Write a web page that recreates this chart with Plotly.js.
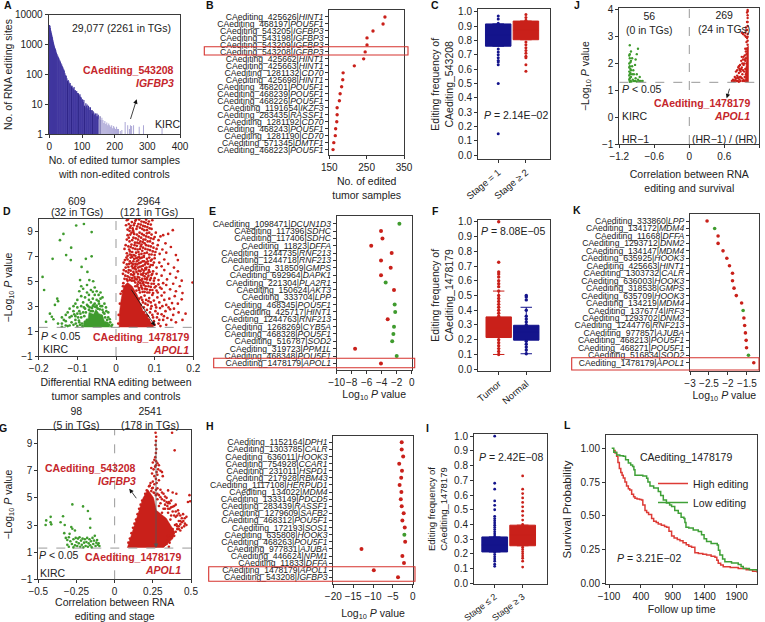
<!DOCTYPE html>
<html><head><meta charset="utf-8">
<script src="https://cdn.plot.ly/plotly-3.0.1.min.js"></script>
<style>html,body{margin:0;padding:0;background:#fff}</style></head>
<body><div id="chart" style="width:765px;height:622px"></div>
<script>
// ---------- DATA ----------
const aX=[1,2,3,4,5,6,7,8,9,10,11,12,13,14,15,16,17,18,19,20,22,24,26,28,30,32,34,36,38,40,42,44,46,48,50,52,54,56,58,60,62,64,66,68,70,72,74,76,78,80,82,84,86,88,90,92,94,96,98,100,102,104,106,108,110,112,114,116,118,120,122,124,126,128,130,132,134,136,138,140,142,144,146,148,150];
const aY=[4500,4200,3600,3100,2800,2500,2200,2000,1800,1600,1400,1250,1120,1000,920,830,770,720,680,640,540,480,420,380,340,300,270,240,215,190,170,150,135,110,95,90,75,62,65,58,50,52,44,40,42,36,34,38,30,30,26,28,24,24,22,20,22,18,17,14,15,12,14,9,8,11,9,10,7.5,9,8,6.5,8,6,6.5,5,6,5.5,4.5,5,5,4,5,4,4.5];
const aSparseX=[152,155,158,161,164,167,170,173,176,179,182,185,188,191,194,197,200,203,206,209,212,217,222,232,240,245,248,252,258,275,288,345];
const aSparseY=[3.2,4,3,3.6,3,2.4,2.8,2.2,2.5,2,2.3,2,1.8,2,1.6,1.9,1.7,1.5,1.8,1.5,1.5,1.3,1.4,2.6,2,1.5,2,1.9,2,1.8,2,1.8];
const aDarkX=[55,68,88,108,131,155];
const aDarkY=[60,40,24,9,6.5,4];

const bSites=['425626','468197','543205','543198','543209','543208','425662','425663','1281132','425698','468201','468239','468226','1191654','283435','1281192','468243','1281190','571345','468223'];
const bGenes=['HINT1','POU5F1','IGFBP3','IGFBP3','IGFBP3','IGFBP3','HINT1','HINT1','CD70','HINT1','POU5F1','POU5F1','POU5F1','IKZF3','RASSF1','CD70','POU5F1','CD70','DMTF1','POU5F1'];
const bValues=[299,294,267,251,251,246,242,217,187,186,183,179,177,171,171,170,167,166,162,160];

const eSites=['1098471','117396','117406','11823','1244735','1244718','318509','692964','221304','150624','333704','468345','425717','1244763','1268269','468328','516787','319723','468348','1478179'];
const eGenes=['DCUN1D3','SDHC','SDHC','DFFA','RNF213','RNF213','GMPS','DAPK1','PLA2R1','AKT3','LPP','POU5F1','HINT1','RNF213','CYB5A','POU5F1','SOD2','PPM1L','POU5F1','APOL1'];
const eRed=[null,-4.09,-3.9,-5.4,-2.67,-4.09,-2.8,-4.09,null,-2.36,null,null,null,-3.2,null,null,null,-7.55,null,-4.1];
const eGreen=[-1.64,null,null,null,null,null,null,null,-3.47,null,null,-2.27,-2.2,null,-2.36,-2.44,-2.6,null,-2,null];

const hSites=['1152164','1303785','636011','754928','231011','217928','1117108','134022','1333149','283439','1279609','468312','172193','635808','468263','977831','446624','11833','1478179','543208'];
const hGenes=['DPH1','CALR','HOOK3','CCAR1','HSPD1','RBM43','HERPUD1','MDM4','PDCD5','RASSF1','SAFB2','POU5F1','SOS1','HOOK3','POU5F1','AJUBA','NPM1','DFFA','APOL1','IGFBP3'];
const hRed=[-2.77,-2.77,-2.4,-3.4,-2.7,-2.9,-3.3,-2.85,-3,-2.77,-2.27,-2.6,-2,null,-1.9,-12.9,-2.6,-2.2,-9.8,-3.7];
const hGreen=[null,null,null,null,null,null,null,null,null,null,null,null,null,-2.1,null,null,null,null,null,null];

const kSites=['333860','134172','11668','1293712','134147','635925','425663','1303732','636003','318538','635709','134219','1376774','1293702','1244776','977857','468213','468271','516834','1478179'];
const kGenes=['LPP','MDM4','DFFA','DNM2','MDM4','HOOK3','HINT1','CALR','HOOK3','GMPS','HOOK3','MDM4','IRF3','DNM2','RNF213','AJUBA','POU5F1','POU5F1','SOD2','APOL1'];
const kRed=[-2.55,null,-2.26,-2.26,-2.13,-2.03,-1.96,-1.88,-1.88,-1.84,-1.78,-1.64,null,-1.58,-1.56,-1.54,-1.52,-1.51,null,-1.32];
const kGreen=[null,-2.35,null,null,null,null,null,null,null,null,null,null,-1.6,null,null,null,null,null,-1.46,null];

const cLow=[.97,.95,.92,.9,.74,.72,.7,.68,.66,.65,.63,.5,.15];
const cHigh=[.98,.96,.94,.79,.77,.75,.73,.71,.69,.68,.63,.585];
const fTumor=[.1,.12,.14,.16,.18,.2,.36,.38,.4,.42,.44,.46,.48,.5,.53,.56,.58,.6,.625,.645,.66,.725,1];
const fNormal=[.105,.13,.15,.17,.19,.3,.32,.34,.36,.4,.47,.49,.5];
const iLow=[.115,.13,.15,.165,.18,.195,.21,.32,.335,.35,.365,.38,.395,.41,.425,.44,.455,.5,.53,.56,.64,.68,1];
const iHigh=[.11,.15,.17,.185,.2,.215,.23,.245,.4,.43,.46,.49,.52,.55,.58,.61,.64,.73];

const dGreen=[[-.103,9.48],[-.083,9.6],[-.136,8.8],[-.145,8.3],[-.19,5.35],[-.186,4.3],[-.164,6.8],[-.116,7.7],[-.129,7.1],[-.117,6.7],[-.063,8.95],[-.078,6.8],[-.089,6.15],[-.074,5.75],[-.063,7],[-.093,5.1],[-.069,5.1],[-.059,5],[-.152,3.6],[-.158,3.1],[-.171,2.4],[-.181,1.75],[-.166,2.15],[-.162,1.95],[-.15,3.4],[-.09,4.6],[-.095,4.2],[-.085,4.4],[-.075,4.7],[-.065,4.3],[-.055,4.5],[-.05,4.2],[-.045,3.9],[-.04,4.1],[-.07,3.9],[-.08,3.7],[-.1,3.5],[-.105,3.2],[-.11,3],[-.12,2.8],[-.125,2.5],[-.13,2.3],[-.12,2.1],[-.135,1.9],[-.14,1.6],[-.115,1.7],[-.105,2.2],[-.1,1.4],[-.095,1.7],[-.09,2.1],[-.085,2.5],[-.08,2.8],[-.075,3.1],[-.07,2.7],[-.065,3.3],[-.06,3],[-.055,3.2],[-.05,2.9],[-.045,3.4],[-.04,3],[-.035,2.7],[-.03,2.4],[-.025,2.6],[-.02,2.1],[-.015,1.7],[-.012,1.4],[-.09,3],[-.095,2.6],[-.1,2.4],[-.105,1.9],[-.11,1.5],[-.12,1.45],[-.13,1.8],[-.125,1.4],[-.14,2.1],[-.06,3.6],[-.05,3.5],[-.07,3.5],[-.085,3.3],[-.04,3.6],[-.03,3.2],[-.035,3.7],[-.055,3.9],[-.075,4.1],[-.09,3.8],[-.06,4.15],[-.1,2.9],[-.11,2.6],
[-.088,1.6],[-.082,2.2],[-.078,2.5],[-.075,1.9],[-.068,2.9],[-.065,2.6],[-.06,2.6],[-.058,3.1],[-.05,3.05],[-.047,2.8],[-.042,2.75],[-.038,2.2],[-.033,2.5],[-.028,2.1],[-.023,1.9],[-.018,1.5],[-.093,1.5],[-.087,1.4],[-.098,2.1],[-.092,2.4],[-.083,2.9],[-.072,3],[-.062,2.85],[-.054,2.95],[-.044,3.2],[-.036,3],[-.026,2.9],[-.02,2.5],[-.016,1.95],[-.01,1.5],[-.104,1.6],[-.096,1.85],[-.108,2.35],[-.115,2.2],[-.13,1.45],[-.14,1.35],[-.15,1.6]];
const dGreenMassX=[-.085,-.083,-.072,-.07,-.058,-.052,-.044,-.035,-.03,-.02,-.016];
const dGreenMassY=[1.3,1.8,2,2.5,2.35,2.75,2.4,2.3,1.8,1.7,1.3];
const dRed=[[.028,9.9],[.033,9.6],[.036,9.3],[.041,9.75],[.046,9.5],[.05,9.85],[.053,9.2],[.058,9.6],[.062,9.3],[.066,9.8],[.07,9.45],[.073,9.1],[.077,9.7],[.081,9.35],[.085,9.8],[.09,9.55],[.094,9.9],[.078,9.95],[.044,9.1],[.03,9.15],
[.03,8.7],[.035,8.2],[.04,8.9],[.045,8.5],[.049,8.1],[.054,8.75],[.057,8.35],[.061,8.9],[.065,8.5],[.069,8.15],[.072,8.7],[.076,8.35],[.08,8.85],[.084,8.55],[.088,8.2],[.092,8.75],[.097,8.4],[.103,8.9],[.11,8.3],[.122,8.7],[.135,8.8],[.147,9.1],[.128,8.05],[.115,8.6],
[.022,7.6],[.028,7.25],[.032,7.8],[.036,7.4],[.04,7.1],[.044,7.65],[.048,7.9],[.052,7.3],[.056,7.55],[.06,7.15],[.064,7.8],[.068,7.45],[.072,7.05],[.076,7.6],[.08,7.3],[.084,7.85],[.088,7.5],[.092,7.15],[.097,7.7],[.102,7.35],[.108,7.9],[.113,7.2],[.12,7.55],[.13,7.3],[.142,7.75],[.155,7.1],[.036,7.15],[.05,7.05],[.066,7.2],
[.02,6.5],[.025,6.1],[.03,6.75],[.034,6.4],[.038,6.9],[.041,6.2],[.045,6.6],[.048,6.05],[.052,6.85],[.055,6.35],[.058,6.7],[.061,6.15],[.064,6.5],[.067,6.9],[.07,6.25],[.073,6.6],[.076,6.05],[.08,6.8],[.083,6.4],[.087,6.15],[.09,6.65],[.095,6.3],[.1,6.85],[.105,6.1],[.112,6.5],[.118,6.2],[.125,6.75],[.135,6.4],[.15,6.1],[.16,6.7],[.042,6.95],[.06,6.95],[.028,6.35],[.05,6.4],[.078,6.5],
[.018,5.6],[.022,5.2],[.026,5.8],[.03,5.4],[.033,5.9],[.036,5.1],[.039,5.55],[.042,5.25],[.045,5.75],[.048,5.35],[.051,5.95],[.054,5.15],[.057,5.6],[.06,5.3],[.063,5.8],[.066,5.05],[.069,5.5],[.072,5.85],[.075,5.2],[.078,5.6],[.081,5.3],[.085,5.9],[.088,5.1],[.092,5.5],[.096,5.8],[.1,5.25],[.105,5.6],[.11,5.1],[.118,5.45],[.125,5.9],[.132,5.15],[.14,5.6],[.155,5.3],[.17,5.05],[.198,4.9],[.16,5.8],[.03,5.05],[.047,5.05],[.067,5.95],[.083,5.7],
[.05,4.9],[.055,4.6],[.06,4.3],[.063,4.85],[.066,4.5],[.069,4.15],[.072,4.7],[.075,4.4],[.078,4.9],[.081,4.1],[.084,4.6],[.088,4.3],[.092,4.8],[.096,4.05],[.1,4.5],[.105,4.25],[.11,4.75],[.118,4.4],[.125,4.1],[.13,4.7],[.14,4.35],[.148,4.8],[.155,4.2],[.165,4.6],[.172,4.05],[.018,4.6],[.02,4.1],[.058,4.95],[.07,4.85],
[.065,3.7],[.07,3.3],[.074,3.85],[.078,3.5],[.082,3.1],[.086,3.65],[.09,3.3],[.094,3.9],[.098,3.45],[.102,3.1],[.107,3.7],[.112,3.3],[.118,3.85],[.125,3.5],[.13,3.1],[.138,3.6],[.145,3.25],[.152,3.8],[.16,3.2],[.17,3.55],
[.09,2.8],[.094,2.3],[.098,1.8],[.102,2.6],[.106,2.1],[.11,1.6],[.114,2.85],[.118,2.35],[.122,1.9],[.128,2.6],[.133,2.05],[.14,2.75],[.148,2.3],[.155,1.7],[.162,2.5],[.172,1.9],[.18,2.4],[.1,1.5],[.115,1.4],[.13,1.5],[.085,1.9],[.09,1.6],[.095,1.45]];
const dRedMore=[[.026,9.5],[.031,9.95],[.038,9.45],[.043,9.25],[.048,9.65],[.055,9.4],[.06,9.95],[.064,9.55],[.068,9.2],[.072,9.75],[.075,9.4],[.08,9.1],[.083,9.6],[.087,9.25],[.092,9.2],[.035,9.05],[.052,9.95],
[.033,8.5],[.037,8.75],[.042,8.3],[.047,8.8],[.051,8.45],[.055,8.1],[.059,8.6],[.063,8.2],[.067,8.8],[.071,8.35],[.074,8.05],[.078,8.6],[.082,8.2],[.086,8.9],[.09,8.45],[.095,8.05],[.1,8.55],[.028,8.35],[.045,8.95],[.06,8.05],
[.025,7.9],[.03,7.05],[.034,7.55],[.038,7.75],[.042,7.35],[.046,7.1],[.05,7.6],[.054,7.85],[.058,7.35],[.062,7.6],[.066,7.95],[.07,7.7],[.074,7.25],[.078,7.9],[.082,7.55],[.086,7.15],[.09,7.8],[.095,7.4],[.1,7.1],[.105,7.6],[.04,7.95],
[.023,6.7],[.027,6.9],[.032,6.15],[.036,6.6],[.04,6.45],[.044,6.05],[.047,6.8],[.05,6.2],[.054,6.6],[.057,6.1],[.06,6.45],[.063,6.85],[.066,6.2],[.069,6.6],[.072,6.95],[.075,6.35],[.079,6.1],[.082,6.6],[.086,6.9],[.09,6.3],[.093,6.75],[.098,6.5],[.044,6.35],[.056,6.9],
[.02,5.9],[.024,5.45],[.028,5.15],[.032,5.7],[.035,5.3],[.038,5.85],[.041,5.05],[.044,5.5],[.047,5.6],[.05,5.2],[.053,5.75],[.056,5.35],[.059,5.85],[.062,5.1],[.065,5.55],[.068,5.2],[.071,5.65],[.074,5.4],[.077,5.95],[.08,5.15],[.084,5.45],[.087,5.75],[.09,5.25],[.094,5.6],[.098,5.05],
[.016,4.2],[.019,4.85],[.05,4.6],[.053,4.25],[.056,4.75],[.059,4.45],[.062,4.1],[.065,4.65],[.068,4.4],[.071,4.95],[.074,4.15],[.077,4.6],[.08,4.35],[.083,4.85],[.086,4.1],[.09,4.55],[.094,4.3],[.098,4.8],[.103,4.6],[.108,4.1],[.114,4.5],[.122,4.85],
[.06,3.6],[.064,3.1],[.068,3.5],[.072,2.9],[.076,3.2],[.08,2.7],[.084,3.4],[.088,2.5],[.092,3],[.096,2.1],[.104,2.9],[.108,2.4],[.112,1.9],[.12,3],[.072,2.5],[.078,2.3],[.082,2.2],[.086,1.7],[.124,2.2],[.136,2.9],[.143,1.9],[.15,2.8],[.01,3.2],[.012,4],[.007,2.3],[.006,1.6]];
const dRedMassX=[.008,.009,.013,.02,.03,.042,.055,.062,.07,.085,.097];
const dRedMassY=[1.3,2.5,3.5,4.6,4.9,4.6,3.9,3.3,2.6,2,1.3];

const gGreen=[[-.277,4.52],[-.207,4.37],[-.175,4.03],[-.448,3.34],[-.419,3.6],[-.42,3.2],[-.452,3],[-.415,3.05],[-.338,3.64],[-.354,3.2],[-.327,3],[-.16,3.46],[-.16,2.8],[-.284,2.85],[-.277,2.72],[-.26,2.6],[-.33,2.4],[-.32,2.05],[-.31,1.9],[-.3,2.1],[-.29,1.8],[-.28,1.6],[-.27,1.95],[-.26,1.5],[-.255,2.05],[-.25,1.75],[-.245,1.45],[-.24,2],[-.235,1.65],[-.23,2.1],[-.225,1.4],[-.22,1.85],[-.215,1.55],[-.21,2],[-.205,1.35],[-.2,1.7],[-.195,1.95],[-.19,1.45],[-.185,1.75],[-.18,2.05],[-.175,1.4],[-.17,1.65],[-.165,1.95],[-.16,1.5],[-.155,1.8],[-.15,1.35],[-.145,2.05],[-.14,1.6],[-.135,1.85],[-.13,2.2],[-.125,1.45],[-.12,1.7],[-.115,1.9],[-.11,1.55],[-.105,1.65],[-.1,1.45],[-.295,2.35],[-.27,1.35],[-.31,1.55],[-.3,1.4]];
const gRed=[[.268,9.8],[.272,9.5],[.27,9.2],[.268,8.9],[.273,8.6],[.27,8.3],[.266,8],[.272,7.7],[.27,7.4],[.24,7.2],[.25,7.6],[.26,7.8],[.255,7.1],[.265,7.3],[.28,7.55],[.285,7.1],[.275,6.9],[.29,7.4],[.3,7],[.245,6.8],[.26,6.6],[.27,6.4],[.28,6.7],[.31,6.9],[.315,6.6],[.25,6.2],[.26,6],[.275,6.1],[.29,6.3],[.235,6.1],[.23,5.9],[.245,5.7],[.255,5.4],[.28,5.7],[.3,5.6],[.32,5.3],[.35,5.55],[.38,5.4],[.404,5.3],[.49,5.2],[.48,4.7],[.495,4.75],[.376,9.8],[.393,8.5],[.415,4.08],[.448,3.8],[.459,3.5],[.47,3.6],[.43,3.7],[.44,3.2],[.42,3.3],[.455,2.9],[.4,4.5],[.37,4.8],[.34,5],[.31,4.9],[.36,4.2],[.38,4.35],[.39,3.7],[.33,4.5],[.35,3.9],[.3,4.6],[.29,4.4],[.42,2.9],[.43,2.6],[.44,2.8],[.405,3.05],[.37,3.7],[.395,3],[.3,5.05],[.27,5.2],[.28,4.9],[.26,5.35],[.32,4.2],[.31,3.9],[.345,4.4],[.365,3.4],[.4,3.6],[.355,4.7],[.325,4.8],[.41,2.7],[.385,2.4],[.35,1.9],[.33,1.55],[.355,1.4],
[.09,1.7],[.1,2],[.11,2.4],[.12,2.8],[.13,3.1],[.14,3.4],[.15,3.8],[.16,4.2],[.17,4.5],[.18,4.8],[.2,5.3],[.21,5.55],[.225,5.85],[.24,5.5],[.25,5.75],[.27,5.6],[.28,5.3],[.29,5.2],[.31,5.4],[.33,5.1],[.34,4.7],[.35,4.6],[.36,4.6],[.37,4.3],[.38,4],[.39,4.4],[.4,4],[.41,3.7],[.42,3.85],[.43,3.3],[.44,3.5],[.45,3.3],[.46,3.1],[.47,3],[.43,3.05],[.41,2.9],[.42,2.7],[.4,2.5],[.39,2.2],[.37,2.1],[.36,1.7],[.34,1.6],[.32,1.45],[.35,2.2],[.38,2.7],[.33,4.2],[.35,4.2]];
const gRedMassX=[.083,.186,.218,.255,.273,.338,.393,.382,.317];
const gRedMassY=[1.32,5,5.6,5,4.08,3.5,2.5,2,1.32];

const jGreen=[[-1.02,2.68],[-1,2.45],[-1.03,2.3],[-1.02,2.2],[-1,2.1],[-1.03,2],[-1.02,1.9],[-1.01,1.8],[-1.03,1.7],[-1.02,1.6],[-1,1.5],[-1.03,1.4],[-1.01,1.35],[-1.02,2.35],[-1.01,1.65],[-1.03,1.55],[-1.02,1.45],[-1,1.75],[-1.03,1.85],[-1.01,2.05],[-.88,2.55],[-.9,2.35],[-.92,2.15],[-.93,1.95],[-.96,1.75],[-.95,1.6],[-.92,1.45],[-.9,1.6],[-.88,1.4],[-.85,1.5],[-.83,1.35],[-.8,1.35],[-.86,1.35],[-.9,1.33],[-.95,1.35],[-.98,1.6],[-.98,1.9],[-.98,2.2],[-.97,1.4],[-.93,1.35],[-.99,1.33],[-1.02,1.32]];
const jRed=[[1,4],[.99,3.9],[1,3.8],[1,3.7],[.99,3.55],[1,3.4],[.98,3.25],[.95,3.05],[.92,3.1],[.9,3.15],[.97,3],[.99,2.95],[1,3.1],[.98,2.8],[1,2.7],[.73,1.35],[.75,1.4],[.78,1.5],[.8,1.7],[.82,1.55],[.84,1.85],[.86,1.4],[.78,1.35],[.81,1.35],[.84,1.45],[.85,1.65],[.87,1.95],[.88,1.7],[.89,2.1],[.9,1.85],[.91,1.6],[.92,2.15],[.93,2.25],[.94,2],[.95,2.3],[.96,2.1],[.87,1.5],[.83,1.35],[.9,2.25],[.97,2.45],[.98,2.35],[.86,1.8],[.88,1.35],[.85,1.32],[.79,1.4],[.82,1.75],
[.95,1.5],[.96,1.8],[.97,1.6],[.98,2],[.99,2.55],[.96,2.55],[.93,1.4],[.94,1.7],[.92,1.75],[.9,1.45],[.89,1.8],[.87,1.75],[.85,1.9],[.83,1.5],[.8,1.45],[.76,1.35],[.93,1.95],[.95,2.15],[.97,2.2],[.91,2],[.88,1.5],[.92,1.35],[.95,1.35],[.98,1.4],[1,2.85],[1,3],[.99,3.25],[1,3.55],[1,3.95],[.97,3.35],[.96,3.15]];
const jRedMassX=[.96,.965,.98,.985,1.015,1.015];
const jRedMassY=[1.3,1.8,2,2.6,2.65,1.3];

const lHighX=[-32,-5,20,40,62,85,105,124,150,175,203,225,255,285,307,340,380,411,430,464,490,520,568,600,640,672,720,770,803,840,881,920,970,1012,1060,1110,1150,1194,1246,1300,1370,1429,1500,1560,1590,1612,1650,1690,1800,1925,2050,2150,2223];
const lHighY=[.983,.965,.94,.895,.85,.82,.8,.78,.75,.72,.70,.69,.66,.64,.63,.625,.62,.617,.58,.54,.525,.51,.48,.46,.45,.44,.43,.42,.415,.385,.35,.335,.325,.316,.3,.285,.275,.267,.227,.22,.215,.21,.2,.193,.17,.148,.135,.123,.118,.109,.1,.09,.079];
const lLowX=[-58,-25,20,70,124,160,203,240,270,290,307,370,430,490,510,542,600,672,710,751,800,850,881,930,985,1030,1074,1090,1106,1150,1220,1299,1350,1390,1429,1500,1596,1615,1638,1680,1716,1820,1925,1970,2004,2100,2223];
const lLowY=[1,.97,.95,.945,.94,.915,.89,.875,.864,.84,.8,.8,.795,.778,.75,.72,.705,.68,.65,.617,.595,.58,.568,.54,.518,.49,.48,.45,.415,.41,.395,.383,.36,.33,.309,.295,.284,.245,.21,.18,.16,.15,.14,.125,.11,.1,.086];

// ---------- LAYOUT HELPERS ----------
const W=765,H=622,FONT='Liberation Sans',RED='#c9201a',GREEN='#3f9b2e',BLUE='#14148c',TRED='#c5262b',INK='#222';
const fx=p=>p/W, fy=p=>1-p/H;
const layout={width:W,height:H,margin:{l:0,r:0,t:0,b:0,pad:0},paper_bgcolor:'#fff',plot_bgcolor:'#fff',showlegend:true,
 font:{family:FONT,size:10,color:INK},annotations:[],shapes:[],
 legend:{x:fx(653),y:fy(469),xanchor:'left',yanchor:'top',bgcolor:'rgba(0,0,0,0)',font:{size:10.5,family:FONT,color:INK},itemwidth:30,tracegroupgap:0}};
const data=[];
let axisIndex=0;
function panel(box,xa,ya){
  axisIndex++;
  const n=axisIndex===1?'':axisIndex, base={showline:true,mirror:true,linecolor:'#3a3a3a',linewidth:1,ticks:'outside',ticklen:3,tickwidth:1,tickcolor:'#333',showgrid:false,zeroline:false,tickfont:{size:10,family:FONT,color:INK},automargin:false,tickangle:0};
  layout['xaxis'+n]=Object.assign({},base,{domain:[fx(box[0]),fx(box[1])],anchor:'y'+n},xa);
  layout['yaxis'+n]=Object.assign({},base,{domain:[fy(box[3]),fy(box[2])],anchor:'x'+n},ya);
  return {x:'x'+n,y:'y'+n};
}
const ttl=(text,standoff,size)=>({text,standoff,font:{size:size||10.5,family:FONT,color:INK}});
function note(text,x,y,o){layout.annotations.push(Object.assign({text,xref:'paper',yref:'paper',x:fx(x),y:fy(y),showarrow:false,xanchor:'center',yanchor:'middle',font:{size:10.5,family:FONT,color:INK},borderpad:0,borderwidth:0},o||{}));}
const redNote=(t,x,y)=>note('<b>'+t+'</b>',x,y,{xanchor:'right',font:{size:10.5,family:FONT,color:TRED}});
function arrow(x0,y0,x1,y1,color){layout.annotations.push({xref:'paper',yref:'paper',x:fx(x1),y:fy(y1),ax:x0-x1,ay:y0-y1,axref:'pixel',ayref:'pixel',showarrow:true,arrowhead:2,arrowsize:1.1,arrowwidth:.8,arrowcolor:color||'#111'});}
const letter=(t,x,y)=>note('<b>'+t+'</b>',x,y,{font:{size:10.5,family:FONT,color:'#111'}});
function dots(ax,x,y,color,size){data.push({type:'scatter',mode:'markers',xaxis:ax.x,yaxis:ax.y,x,y,showlegend:false,marker:{color,size,line:{width:0}},cliponaxis:false});}
function mass(ax,x,y,color){data.push({type:'scatter',mode:'lines',xaxis:ax.x,yaxis:ax.y,x,y,fill:'toself',fillcolor:color,line:{color,width:.5},showlegend:false,hoverinfo:'skip'});}
function dash(ax,x0,x1,y0,y1){layout.shapes.push({type:'line',xref:ax.x,yref:ax.y,x0,x1,y0,y1,layer:'above',line:{color:'#999',width:1,dash:'dash'}});}
function frameRect(x0,x1,y0,y1){layout.shapes.push({type:'rect',xref:'paper',yref:'paper',x0:fx(x0),x1:fx(x1),y0:fy(y1),y1:fy(y0),layer:'above',line:{color:'#d6332e',width:1.1}});}
const rowLabels=(s,g)=>s.map((v,i)=>'CAediting_'+v+'|<i>'+g[i]+'</i>');
const rows=s=>s.map((_,i)=>i);
function box(ax,pos,q1,med,q3,lo,hi,color){data.push({type:'box',xaxis:ax.x,yaxis:ax.y,x:[pos],q1:[q1],median:[med],q3:[q3],lowerfence:[lo],upperfence:[hi],width:.92,whiskerwidth:.45,boxpoints:false,fillcolor:color,line:{color,width:1},showlegend:false});}
const col=(v,p)=>v.map(()=>p);
const xs=a=>a.map(p=>p[0]), ys=a=>a.map(p=>p[1]);
const labelFont={size:8.6,family:FONT,color:INK};
const stageFont={size:9.5,family:FONT,color:INK};

// A
const A=panel([48.7,180,14.7,134.3],{range:[-2,400],tickvals:[0,100,200,300,400],title:ttl('No. of edited tumor samples<br>with non-edited controls',5)},
 {type:'log',range:[0,4],tickvals:[1,10,100,1000,10000],ticktext:['1','10','100','1000','10000'],title:ttl('No. of RNA editing sites',0)});
data.push({type:'bar',xaxis:A.x,yaxis:A.y,x:aX,y:aY,width:3.6,marker:{color:'#41379f',line:{width:0}},showlegend:false});
data.push({type:'bar',xaxis:A.x,yaxis:A.y,x:aSparseX,y:aSparseY,width:2.6,marker:{color:'#9d97cf',line:{width:0}},showlegend:false});
data.push({type:'bar',xaxis:A.x,yaxis:A.y,x:aDarkX,y:aDarkY,width:1.4,marker:{color:'#1d1570',line:{width:0}},showlegend:false});
note('29,077 (2261 in TGs)',122,28);
redNote('CAediting_543208',173.5,70); redNote('<i>IGFBP3</i>',173.5,83);
note('KIRC',168,124); arrow(128.3,126,136.7,99.3); letter('A',8,5);

// B
const B=panel([329.3,404,10,155],{range:[150,350],tickvals:[150,250,350],title:ttl('No. of edited<br>tumor samples',5)},
 {range:[19.77,-1],tickvals:rows(bSites),ticktext:rowLabels(bSites,bGenes),tickfont:labelFont});
dots(B,bValues,rows(bSites),RED,3.4); frameRect(204.3,408,46.7,55); letter('B',210,5);

// C
const C=panel([478,550,9.3,159.3],{range:[-.73,1.87],tickvals:[0,1],ticktext:['Stage = 1','Stage ≥ 2'],tickangle:-40,tickfont:stageFont},
 {range:[-.028,1.017],tickvals:[0,.1,.2,.3,.4,.5,.6,.7,.8,.9,1],tickformat:'.1f',title:ttl('Editing frequency of<br>CAediting_543208',2)});
box(C,0,.76,.84,.915,.76,.915,BLUE); box(C,1,.805,.87,.935,.805,.935,RED);
dots(C,col(cLow,0),cLow,BLUE,3); dots(C,col(cHigh,1),cHigh,RED,3);
note('<i>P</i> = 2.14E−02',516,115); letter('C',435,5);

// J
const J=panel([619.3,759.3,8.3,144],{range:[-1.2,1.2],tickvals:[-1.2,-.6,0,.6,1.2],title:ttl('Correlation between RNA<br>editing and survival',9)},
 {range:[-1,4.06],tickvals:[-1,0,1,2,3,4],title:ttl('−Log<sub>10</sub> <i>P</i> value',10)});
mass(J,jRedMassX,jRedMassY,RED); dots(J,xs(jGreen),ys(jGreen),GREEN,2.4); dots(J,xs(jRed),ys(jRed),RED,2.4);
dash(J,0,0,-1,4.06); dash(J,-1.2,1.2,1.3,1.3);
note('56<br>(0 in TGs)',649,23); note('269<br>(24 in TGs)',724,22);
note('<i>P</i> &lt; 0.05',621.5,89,{xanchor:'left'}); note('KIRC',621.5,115.7,{xanchor:'left'});
redNote('CAediting_1478179',749.5,103); redNote('<i>APOL1</i>',749.5,116);
note('HR−1',621.5,139,{xanchor:'left'}); note('(HR−1) / (HR)',757,139,{xanchor:'right'});
arrow(731.7,81.7,726.7,98.3); letter('J',577,5);

// D
const D=panel([38.7,193.3,219,356],{range:[-.2,.2],tickvals:[-.2,-.1,0,.1,.2],title:ttl('Differential RNA editing between<br>tumor samples and controls',5)},
 {range:[-1,10],tickvals:[-1,1,3,5,7,9],title:ttl('−Log<sub>10</sub> <i>P</i> value',6)});
mass(D,dGreenMassX,dGreenMassY,GREEN); mass(D,dRedMassX,dRedMassY,RED);
dots(D,xs(dGreen),ys(dGreen),GREEN,2.7); dots(D,xs(dRed),ys(dRed),RED,2.7); dots(D,xs(dRedMore),ys(dRedMore),RED,2.7);
dash(D,0,0,-1,10); dash(D,-.2,.2,1.3,1.3);
note('609',77,201.5); note('(32 in TGs)',77,212); note('2964',149,201.5); note('(121 in TGs)',149,212);
note('<i>P</i> &lt; 0.05',41,335.7,{xanchor:'left'}); note('KIRC',43,349,{xanchor:'left'});
redNote('CAediting_1478179',188.7,336.7); redNote('<i>APOL1</i>',188.7,350);
arrow(128.3,285,155,326); letter('D',7,211);

// E
const E=panel([336.7,411.7,216,370],{range:[-10,0],tickvals:[-10,-8,-6,-4,-2,0],title:ttl('Log<sub>10</sub> <i>P</i> value',3)},
 {range:[19.9,-1.05],tickvals:rows(eSites),ticktext:rowLabels(eSites,eGenes),tickfont:labelFont});
dots(E,eRed,rows(eSites),RED,4); dots(E,eGreen,rows(eSites),GREEN,4);
frameRect(213.7,414.7,358.3,367.7); letter('E',212,211);

// F
const F=panel([478,550,220,370.7],{range:[-.75,1.86],tickvals:[0,1],ticktext:['Tumor','Normal'],tickangle:-40,tickfont:stageFont},
 {range:[-.01,1.012],tickvals:[0,.1,.2,.3,.4,.5,.6,.7,.8,.9,1],tickformat:'.1f',title:ttl('Editing frequency of<br>CAediting_1478179',2)});
box(F,0,.215,.28,.355,.1,.53,RED); box(F,1,.197,.25,.298,.105,.42,BLUE);
dots(F,col(fTumor,0),fTumor,RED,3.4); dots(F,col(fNormal,1),fNormal,BLUE,3.4);
note('<i>P</i> = 8.08E−05',513,231); letter('F',435,211);

// K
const K=panel([690,758.7,214,370.7],{range:[-3,-1.19],tickvals:[-3,-2.5,-2,-1.5],title:ttl('Log<sub>10</sub> <i>P</i> value',3)},
 {range:[20.07,-.94],tickvals:rows(kSites),ticktext:rowLabels(kSites,kGenes),tickfont:labelFont});
dots(K,kRed,rows(kSites),RED,3.6); dots(K,kGreen,rows(kSites),GREEN,3.6);
frameRect(571.7,759,357.7,370); letter('K',577,210);

// G
const G=panel([38.3,191,430,579.3],{range:[-.5,.5],tickvals:[-.5,-.25,0,.25,.5],title:ttl('Correlation between RNA<br>editing and stage',5)},
 {range:[-1,10],tickvals:[-1,1,3,5,7,9],title:ttl('−Log<sub>10</sub> <i>P</i> value',6)});
mass(G,gRedMassX,gRedMassY,RED);
dots(G,xs(gGreen),ys(gGreen),GREEN,2.6); dots(G,xs(gRed),ys(gRed),RED,2.6);
dash(G,0,0,-1,10); dash(G,-.5,.5,1.3,1.3);
note('98<br>(5 in TGs)',75.7,418); note('2541<br>(178 in TGs)',150,418);
redNote('CAediting_543208',136,468.3); redNote('<i>IGFBP3</i>',136,480.7);
redNote('CAediting_1478179',181,557.3); redNote('<i>APOL1</i>',181,570);
note('<i>P</i> &lt; 0.05',39.3,555,{xanchor:'left'}); note('KIRC',40,572.7,{xanchor:'left'});
arrow(139.3,502.3,129.3,488.7); arrow(156,434,156,548,'#555'); letter('G',3,428);

// H
const Hp=panel([333.3,412.7,435.7,584],{range:[-20,0],tickvals:[-20,-15,-10,-5,0],title:ttl('Log<sub>10</sub> <i>P</i> value',8)},
 {range:[19.94,-.93],tickvals:rows(hSites),ticktext:rowLabels(hSites,hGenes),tickfont:labelFont});
dots(Hp,hRed,rows(hSites),RED,4); dots(Hp,hGreen,rows(hSites),GREEN,4);
frameRect(208.7,415,566.7,581.3); letter('H',210,426);

// I
const I=panel([474,546.7,434,584],{range:[-.74,1.86],tickvals:[0,1],ticktext:['Stage ≤ 2','Stage ≥ 3'],tickangle:-38,tickfont:{size:9,family:FONT,color:INK}},
 {range:[-.005,1.015],tickvals:[0,.1,.2,.3,.4,.5,.6,.7,.8,.9,1],tickformat:'.1f',title:ttl('Editing frequency of<br>CAediting_1478179',4,9.5)});
box(I,0,.213,.26,.315,.213,.315,BLUE); box(I,1,.255,.33,.395,.255,.395,RED);
dots(I,col(iLow,0),iLow,BLUE,2.8); dots(I,col(iHigh,1),iHigh,RED,2.8);
note('<i>P</i> = 2.42E−08',511,456.7); letter('I',427,428);

// L
const L=panel([606,757.3,435,584],{range:[-147,2224],tickvals:[-100,400,900,1400,1900],title:ttl('Follow up time',4)},
 {range:[-.005,1.098],tickvals:[0,.25,.5,.75,1],tickformat:'.2f',title:ttl('Survival Probability',6,11.5)});
data.push({type:'scatter',mode:'lines',xaxis:L.x,yaxis:L.y,x:lHighX,y:lHighY,name:'High editing',line:{color:'#dd3b36',width:1.5,shape:'hv'},showlegend:true});
data.push({type:'scatter',mode:'lines',xaxis:L.x,yaxis:L.y,x:lLowX,y:lLowY,name:'Low editing',line:{color:'#3fa037',width:1.5,shape:'hv'},showlegend:true});
note('CAediting_1478179',686,456.7); note('<i>P</i> = 3.21E−02',649,558); letter('L',567,425);

Plotly.newPlot('chart',data,layout,{displayModeBar:false,responsive:false,staticPlot:true});
</script></body></html>
